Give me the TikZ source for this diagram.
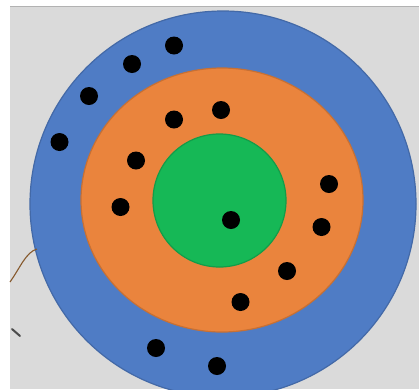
\documentclass[tikz,border=0pt]{standalone}
\usetikzlibrary{calc}

\definecolor{ringblue}{RGB}{79,124,197}
\definecolor{ringorange}{RGB}{234,132,61}
\definecolor{ringgreen}{RGB}{22,184,86}
\definecolor{backgray}{RGB}{218,218,218}

\begin{document}
\begin{tikzpicture}[x=1pt, y=-1pt, ring/.style={line width=1.2pt}, dot/.style={circle, fill=black, inner sep=0pt, minimum size=18pt}]
\useasboundingbox (0,0) rectangle (419,389);
\fill[white] (0,0) rectangle (419,389);
\fill[backgray] (10,6) rectangle (419,389);
\draw[gray!60, line width=0.8pt] (10,6) -- (419,6);
% target rings
\fill[ringblue, draw=ringblue!85!black, ring] (223,204) circle (193pt);
\fill[ringorange, draw=ringorange!85!black, ring] (222,200) ellipse [x radius=141pt, y radius=132pt];
\fill[ringgreen, draw=ringgreen!85!black, ring] (219.5,200.5) circle (66.5pt);
% dots
\foreach \x/\y [count=\i] in {174/45.5, 132/64, 89/96, 59.5/142, 156/348, 217/366,
  174/119.5, 221/110, 136/160.5, 120.5/207, 329/184, 321.5/227, 287/271, 240.5/302, 231/220}
  \node[dot] (d\i) at (\x,\y) {};
% stray marks on the left
\draw[brown!70!black, line width=1.1pt] (10,282) .. controls (20,268) and (26,252) .. (37,249);
\draw[gray!60!black, line width=2pt, line cap=round] (12,329) -- (20,336);
\end{tikzpicture}
\end{document}
